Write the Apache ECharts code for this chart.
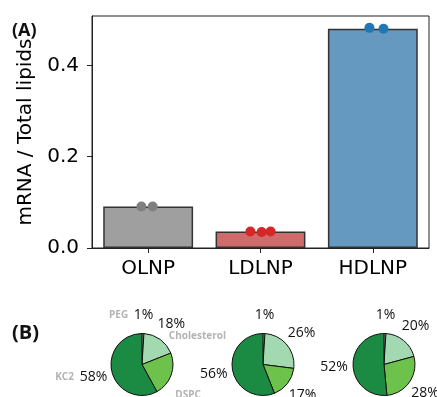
<!DOCTYPE html>
<html>
<head>
<meta charset="utf-8">
<script src="https://cdn.jsdelivr.net/npm/echarts@6/dist/echarts.min.js"></script>
<style>
  html, body { margin: 0; padding: 0; background: #fff; }
  #chart { width: 437px; height: 397px; }
</style>
</head>
<body>
<div id="chart"></div>
<script>
// ---------- data ----------
const categories = ['OLNP', 'LDLNP', 'HDLNP'];
const meanValues = [0.091, 0.036, 0.480];
const olnpPoints = [0.091, 0.091];
const ldlnpPoints = [0.036, 0.035, 0.036];
const hdlnpPoints = [0.482, 0.480];
// horizontal strip-plot jitter, in category units
const olnpJitter = [-0.06, 0.04];
const ldlnpJitter = [-0.09, 0.01, 0.09];
const hdlnpJitter = [-0.03, 0.095];
const yMin = 0, yMax = 0.508, yStep = 0.2;

const lipidNames = ['PEG', 'Cholesterol', 'DSPC', 'KC2'];
const olnpShares = [1, 18, 23, 58];
const ldlnpShares = [1, 26, 17, 56];
const hdlnpShares = [1, 20, 28, 52];

// ---------- styles ----------
const barColors = ['#9f9f9f', '#d06b6b', '#6699bf'];
const dotColors = ['#7f7f7f', '#d62728', '#1f77b4'];
const lipidColors = ['#ffffff', '#a3d9b1', '#6cc24a', '#1b8a43'];
const font = 'DejaVu Sans';
const pieFont = 'Open Sans';

const chart = echarts.init(document.getElementById('chart'), null, { renderer: 'canvas' });

const pointSets = [olnpPoints, ldlnpPoints, hdlnpPoints];
const jitterSets = [olnpJitter, ldlnpJitter, hdlnpJitter];
const scatterSeries = pointSets.map((pts, ci) => ({
  type: 'scatter',
  xAxisIndex: 1,
  yAxisIndex: 0,
  symbolSize: 10,
  itemStyle: { color: dotColors[ci], opacity: 1 },
  z: 5,
  silent: true,
  data: pts.map((v, i) => [ci + jitterSets[ci][i], v])
}));

const pieCenters = [[142, 364.5], [263, 364.5], [384, 364.5]];
const shareSets = [olnpShares, ldlnpShares, hdlnpShares];
const pieR = 31;

const pieSeries = [];
shareSets.forEach((shares, pi) => {
  pieSeries.push({
    type: 'pie',
    center: pieCenters[pi],
    radius: [0, pieR],
    startAngle: 90,
    clockwise: true,
    silent: true,
    label: { show: false },
    labelLine: { show: false },
    itemStyle: { borderColor: '#111', borderWidth: 1 },
    data: shares.map((v, i) => ({ name: lipidNames[i], value: v, itemStyle: { color: lipidColors[i] } }))
  });
  // percentage labels ring (transparent)
  pieSeries.push({
    type: 'pie',
    center: pieCenters[pi],
    radius: [40, 54],
    startAngle: 90,
    clockwise: true,
    silent: true,
    itemStyle: { color: 'rgba(0,0,0,0)', borderWidth: 0 },
    labelLine: { show: false },
    label: {
      show: true, position: 'inside', formatter: '{c}%',
      color: '#111', fontSize: 14, fontFamily: pieFont
    },
    data: shares.map((v, i) => ({ name: lipidNames[i], value: v }))
  });
});
// lipid names for first pie
const nameOffsets = [[-25, 1], [26, 12], [-1, 14], [-29, 0]];
pieSeries.push({
  type: 'pie',
  center: pieCenters[0],
  radius: [40, 54],
  startAngle: 90,
  clockwise: true,
  silent: true,
  itemStyle: { color: 'rgba(0,0,0,0)', borderWidth: 0 },
  labelLine: { show: false },
  label: {
    show: true, position: 'inside', formatter: '{b}',
    color: '#b3b3b3', fontSize: 10, fontWeight: 'bold', fontFamily: pieFont
  },
  data: olnpShares.map((v, i) => ({
    name: lipidNames[i], value: v,
    label: { offset: nameOffsets[i] }
  }))
});

const option = {
  animation: false,
  backgroundColor: '#fff',
  title: [
    { text: '(A)', left: 7, top: 17, textStyle: { fontFamily: pieFont, fontWeight: 'bold', fontSize: 18, color: '#111' } },
    { text: '(B)', left: 7, top: 318, textStyle: { fontFamily: pieFont, fontWeight: 'bold', fontSize: 20, color: '#111' } }
  ],
  grid: {
    left: 92, right: 8, top: 16, bottom: 149,
    show: true, borderColor: '#222', borderWidth: 1, backgroundColor: 'transparent'
  },
  xAxis: [
    {
      type: 'category',
      data: categories,
      axisLine: { show: true, onZero: false, lineStyle: { color: '#222', width: 1 } },
      axisTick: { show: true, alignWithLabel: true, length: 5, lineStyle: { color: '#222' } },
      axisLabel: { color: '#000', fontSize: 20, fontFamily: font, margin: 11 },
      splitLine: { show: false }
    },
    {
      type: 'value',
      min: -0.5, max: 2.5,
      show: false,
      gridIndex: 0
    }
  ],
  yAxis: {
    type: 'value',
    min: yMin, max: yMax, interval: yStep,
    name: 'mRNA / Total lipids',
    nameLocation: 'middle',
    nameGap: 56,
    nameRotate: 90,
    nameTextStyle: { color: '#000', fontSize: 20, fontFamily: font },
    axisLine: { show: true, onZero: false, lineStyle: { color: '#222', width: 1 } },
    axisTick: { show: true, length: 5, lineStyle: { color: '#222' } },
    axisLabel: {
      color: '#000', fontSize: 20, fontFamily: font, margin: 13,
      showMaxLabel: false,
      formatter: v => v.toFixed(1)
    },
    splitLine: { show: false }
  },
  series: [
    {
      type: 'bar',
      xAxisIndex: 0,
      yAxisIndex: 0,
      barWidth: '80%',
      silent: true,
      data: meanValues.map((v, i) => ({
        value: v,
        itemStyle: { color: barColors[i], borderColor: '#333', borderWidth: 1.5 }
      }))
    },
    ...scatterSeries,
    ...pieSeries
  ]
};

chart.setOption(option);
</script>
</body>
</html>
